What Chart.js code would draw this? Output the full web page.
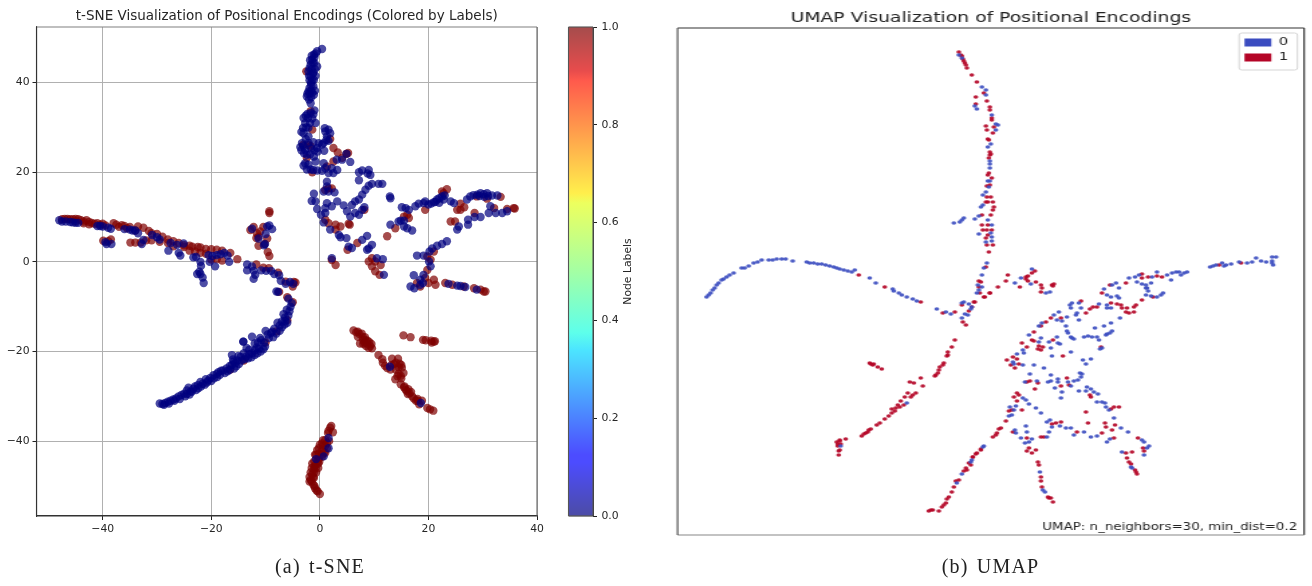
<!DOCTYPE html>
<html>
<head>
<meta charset="utf-8">
<title>t-SNE and UMAP</title>
<script src="https://cdn.jsdelivr.net/npm/chart.js@4"></script>
<style>
html, body { margin: 0; padding: 0; background: #fff; width: 1312px; height: 586px; overflow: hidden; }
canvas { position: absolute; display: block; }
.caption { position: absolute; top: 555px; font: 20px "Liberation Serif", serif; letter-spacing: 1.2px; word-spacing: 2px; color: #222; white-space: nowrap; transform: translateX(-50%); }
</style>
</head>
<body>
<canvas id="tsneChart" width="574" height="560" style="left:0;top:0"></canvas>
<canvas id="colorbar" width="100" height="560" style="left:560px;top:0"></canvas>
<canvas id="umapChart" width="487" height="560" style="left:660px;top:0;transform-origin:0 0;transform:scaleX(1.34)"></canvas>
<div class="caption" style="left:320px">(a) t-SNE</div>
<div class="caption" style="left:990.5px">(b) UMAP</div>

<script>
// t-SNE, label 0 / label 1
const tsneBlue = [
[-48,9.3],[-47.5,9],[-46.8,9],[-46,8.9],[-45.5,8.8],[-45,8.7],[-44.5,8.7],[-41,8],[-40.5,8],[-40,7.9],[-39,7.6],[-38.5,7.4],[-36,7.3],[-35,7.2],[-34.5,7],[-34,7],[-33.5,6.4],[-30.9,6],[-30,5.5],[-29.5,5],[-27.9,2.5],[-27.5,4.2],[-26.3,3.8],[-26,2],[-25.7,1.4],[-25.1,4.1],[-32.5,4.9],[-32.8,4],[-39.5,4.4],[-39.3,4],[-38.4,4],
[-23.3,1],[-22.8,1.1],[-22,0],[-21.9,-0.9],[-22.6,-2.7],[-22,-2.7],[-21.6,-3.5],[-21.4,-4.7],[-22.2,-2.2],[-20.5,1.5],[-20.3,0],[-19.3,-1],[-19.8,1.3],[-19,1.5],[-18.3,1.7],[-17.6,2],[-17,1.4],[-16.7,0],
[-13.4,-0.6],[-13.4,-1.9],[-12.5,-1],[-12.2,-2],[-11.9,-2.9],[-12.2,-3.8],[-10.8,-1.9],[-9.9,-2],[-9,-2],[-8.4,-2.7],[-7.5,-3],[-7.2,-4.2],[-6.3,-4.9],[-5.5,-4.5],[-4.9,-4.9],
[-12.5,7.4],[-11.3,5.2],[-10,6.2],[-9.3,8.1],[-9.7,7.9],[-8.8,7.3],[-10.1,4],[-10.3,3.7],
[-29.5,-31.6],[-29,-31.7],[-28.5,-31.5],[-28,-31.2],[-27.5,-31],[-27,-30.7],[-26.5,-30.5],[-26,-30],[-25.5,-29.7],[-25,-29.4],[-24.5,-29.5],[-24.5,-28.7],[-24.2,-28.1],[-23.8,-28.9],[-23.3,-28.3],[-23,-27.8],[-22.5,-27.5],[-22,-26.8],[-21.6,-27.2],[-21,-26.2],[-20.6,-26.5],[-20.2,-25.9],[-19.6,-25.3],[-19,-25],[-18.7,-24.6],[-18.2,-24.3],[-17.8,-24.2],[-17.2,-23.8],[-16.6,-23.2],[-16.2,-23],[-15.9,-22.3],[-16,-21.8],[-15.6,-22.6],[-15.2,-22],[-16.2,-20.8],[-15,-21],[-14.6,-21.2],[-14,-20.4],[-13.6,-21.1],[-13,-20.6],[-12.5,-20.4],[-12,-19.7],[-11.6,-19.1],[-11.2,-19.4],[-12.5,-16.7],[-14.1,-17.8],[-14.1,-17.8],[-12,-18.2],[-11.4,-18],[-10.8,-17.5],[-10.3,-18],[-10,-15.4],[-9.6,-16.2],[-9,-15.9],[-8.4,-14.9],[-8.8,-15.6],[-7.8,-13.6],[-7.4,-14.2],[-7,-13.3],[-6.4,-13.2],[-6.7,-11.7],[-6.4,-12.4],[-6.1,-10.7],[-5.2,-9.2],[-5.8,-8.2],[-7.7,-6.7],[-8,-6.6],
[-28.7,-31.9],[-27.8,-31.6],[-26.8,-31],[-25.8,-30.6],[-24.8,-30],[-24,-29.6],[-23.6,-29],[-22.8,-28.6],[-22.4,-28.2],[-21.9,-27.8],[-21.2,-27.4],[-20.8,-26.9],[-20,-26.6],[-19.5,-26],[-18.9,-25.7],[-18.4,-25.2],[-17.5,-24.8],[-17,-24.4],[-16.6,-24.1],[-15.8,-23.8],[-15.4,-23.3],[-14.9,-22.8],[-14.4,-22],[-13.8,-21.7],[-13.2,-21.5],[-12.6,-21.3],[-12,-20.8],[-11.5,-20.4],[-10.9,-20],[-10.4,-19.5],[-10.1,-18.9],[-13,-19.6],[-13.5,-19.2],[-11,-17],[-9.4,-17],[-8.6,-16.8],[-8,-16],[-7.4,-15.4],[-7,-14.6],[-6.5,-14],[-6,-13.6],[-5.4,-10],[-5.6,-11],[-5.8,-12],
[1.6,-39.3],[1.6,-41.6],[0.7,-43.4],[-0.7,-44],[12.9,-23.4],[18.6,-31.5],
[0.4,47.5],[-0.5,47],[-1.1,46.2],[-0.8,46.5],[-1.4,45.1],[-1,45.6],[-1.7,44],[-1,44.4],[-2.1,42.5],[-1.5,43],[-0.9,43],[-1.7,41.4],[-0.8,41.5],[-1.2,42.2],[-0.5,43.6],[-1.1,40.6],[-1.6,40],[-1.9,38.8],[-1.2,39.2],[-1.4,37.7],[-2.4,36.9],[-1.1,37.3],[-1.9,37.6],[-2,36.2],[-1.7,35.4],[-1.7,33.2],[-1.2,32.9],[-3,32.1],[-2.2,32.1],[-1.4,32],[-2.7,31],[-0.8,31],[-3.1,29.9],[-2.1,29.9],[-3,28.7],[-2.1,28],[-3,25.8],[-3.3,26.5],[-2.1,26.5],[-1.2,26.7],[-0.2,26.5],[0.4,26.2],[-0.5,25.4],[-2.7,25],[-1.6,25.3],[-2.4,23.9],[-2.7,22],[-2.1,21.7],[-2.4,20.6],[-1.1,23.5],[-0.8,22.4],[-0.5,20.4],
[-1.5,46],[-1.8,45],[-1.3,44.5],[-1.9,43.2],[-1.3,42],[-2,41.5],[-1.9,40.5],[-1.4,40.5],[-1.6,39.4],[-2.1,38],[-1.6,38.2],[-2.3,37.5],[-1.6,36.7],[-0.9,38.2],[-2.3,33],[-2.6,32.6],[-1,33.8],[-1.8,31],[-2.5,30],[-3.4,29],[-2.6,27.4],[-3.6,25.6],[-3.4,24.9],[-2.9,24.2],[-1,24.9],[-0.4,24.6],[-1.8,24],[-3,21.5],[-1.7,20.6],[-1.2,20.5],[0.8,24.8],[1.6,27],[0.9,29.8],
[1.6,29.5],[1,29.1],[1.9,28.7],[1.3,28],[1.2,27.2],[0.7,26.5],
[4.9,24.1],[3.1,22.8],[4.1,22.8],[5.6,22.3],[0.7,22],[1,20.9],[2.2,20.9],[3.2,20.5],[1.6,19.8],[2.5,19.8],[0.4,20.3],
[7.2,20],[7.8,20.4],[9,20.5],[9.3,19.4],[8.8,19.7],[7.2,18.2],
[11.5,17.4],[10.8,17.4],[9.6,17.4],[9,17],[8.4,16.1],[7.8,15],[7.2,13.9],[6.5,13.5],[8.2,12.2],[6.5,10.9],[5.9,12.7],[4.4,12.6],[5,11.3],[5.6,10.1],[7.2,10.5],[7.8,11.6],
[1.3,17.9],[1.3,16.8],[1.6,15.7],[-1.1,15.2],[-1.5,13.6],[-0.8,13.5],[0.7,15.7],[2.7,15.5],[1.3,13.1],[3.2,13.5],[2.2,12.4],[1,12],[-0.5,11.8],[0.2,10.5],[1,10.9],[0.7,8.8],[1.9,7.2],[3.5,6],[3.8,5.5],[4.9,5.3],[5.3,3.4],[5.9,3.1],[7.8,4.9],[8.7,5.8],[9.6,3.8],[9,3],[8.7,2.7],
[2.2,0.8],[10.5,0.8],[11.6,0.6],[11.8,-2.9],[12.9,14.6],[13,14.2],
[13,8.3],[14.5,9],[14.9,9.2],[15.5,9.2],[15.1,12.2],[15.8,12],[16.4,11.6],[17.6,12.4],[18.2,13],[19.1,13.1],[19.4,13.5],[20,12.8],[21,13.3],[21.6,13.9],[22.5,14.6],[22.8,13.9],[22,13.2],[24.1,13.5],[24.7,13.1],[27.1,13.9],[27.7,14.6],[29,15],[29.6,15.3],[30.2,15.1],[30.8,15.3],[31.7,14.8],[32.7,14.8],[25.6,7.9],[25.3,7.2],[27.3,9.4],[27.3,8.3],[28.5,10],[29.6,10],[31.4,12.4],[31.1,10.9],[32.4,10.9],[33.6,10.9],[34.5,11.3],[16.1,7.5],[17,7],[15.5,7.9],
[20.5,13],[21.3,13.4],[22,14.2],[23,14.8],[28.3,14.9],[31,14.7],[29.4,14.7],[30.3,14.5],
[23.4,4.6],[22.5,4],[21.6,3.6],[20.7,3],[20.2,2.3],[17.9,1.4],[19.1,1.4],[20.1,0.1],[20.4,-1],[17.3,-3],[19.1,-2.9],[18.5,-4],[16.7,-5.5],[17.4,-5.9],[18.5,-5.1],[19,-4.7],
[23.7,-4.9],[25.3,-5.3],[26.8,-5.6],[28.9,-6.2],[25.9,-5.4]
];
const tsneRed = [
[-47.5,9.5],[-47,9.6],[-46.5,9.6],[-46,9.5],[-45.5,9.5],[-45,9.6],[-44.5,9.5],[-44,9.3],[-43.5,9],[-43,9.3],[-42.5,8.9],[-42,8.7],[-41.5,8.5],[-41,8.6],[-40.5,8.3],[-40,8.5],[-39.5,8.1],[-38,8.6],[-37.5,8.3],[-36.5,8.2],[-36,8],[-35.5,7.5],[-35,7.8],[-34,7],[-33.5,7.9],[-32.5,7.6],[-31.5,6.9],[-31,6.4],[-30,6.2],[-29,5.6],[-28,5],[-27,4.6],[-26,4.2],[-25,3.7],[-24,3.6],[-23.5,3.4],[-22.5,3.3],[-22,3.2],[-21,2.9],[-20,2.8],[-19,2.7],[-18,2.5],[-16.5,2],[-15.2,0.6],
[-45,9.1],[-43.5,8.6],[-42.5,8.4],[-37,7.8],
[-39.9,4.7],[-39,4.6],[-38.5,5],[-34.9,4.3],[-34,4.3],[-33,4.3],[-32,4.8],[-31,4.8],[-29.5,4.5],[-28,4.2],[-27,3.5],[-25,3.3],[-24,2.5],[-23,2.3],[-22,2],[-21,1.8],[-20,0.5],[-19,0.6],[-18,0.3],
[-11.7,-0.6],[-10.4,-1.3],[-9.4,-1.4],[-7.7,-2.4],[-6.3,-4.4],[-4.8,-4.5],[-4.5,-4.6],
[-12.8,7.1],[-12.2,7.8],[-11.6,6.4],[-11.3,5.6],[-11.3,3.6],[-10.4,7.8],[-10.2,4],[-9.7,5.2],[-9.6,2.2],[-9.3,1.3],[-11,6.8],[-9.3,11.3],[-9.3,10.9],[-11.7,5.3],
[-16.5,-24],[-14,-22],[-10,-18],[-8,-15.5],[-6,-13],[-5,-9],[-6,-7.9],[-7.5,-6.7],[-5,-5.5],
[0,-51.8],[-0.4,-51.2],[-0.9,-50.5],[-1.2,-49.7],[-1.5,-49],[-1.7,-48.6],[-1.1,-48.2],[-1.1,-47],[-1.4,-47.4],[-0.8,-46],[-1,-45.7],[-0.8,-45.3],[-0.4,-44.4],[-0.2,-43.8],[-0.7,-43],[-0.2,-42.8],[-0.2,-41.6],[0.4,-42.2],[0.8,-42.5],[0.4,-40.5],[1,-39.8],[1.3,-41.6],[1,-41],[0.4,-43.5],[-0.3,-45],[-1.1,-46.3],[1.9,-37],[2.4,-38],[1.6,-37.7],[2.1,-36.6],[1.5,-38.2],
[0.6,-41],[1.3,-40.4],[1.7,-40],[0,-40.8],[0.6,-39.8],[-0.5,-42],[-0.9,-43],[-1,-44.5],[-1.4,-45],[-1.5,-46],[-1.7,-47],[-1.9,-48],[-1.9,-49],[-1.2,-48],[-0.7,-47],[-0.3,-46],[-0.1,-44.6],[0.4,-43],[1,-42.6],[-1,-50],[-0.6,-51],
[6.2,-15.3],[7,-15.6],[7.7,-16],[7,-16.7],[7.9,-16.8],[7.4,-18.2],[8,-17.5],[8.8,-17.6],[9.5,-18.3],[8.5,-18.8],[9,-19.2],[9.6,-19.3],[8.7,-18.2],[10.8,-20.8],[11.5,-21.7],[11.6,-22.5],[12,-23.2],[12.4,-23.7],[13.3,-21.6],[13.2,-23],[14.4,-21.6],[14.7,-22.7],[14,-24],[14.5,-25],[15.4,-24.8],[15,-26],[13.9,-26.2],[14.9,-27.3],[15.5,-28],[16,-28.8],[16.5,-29.3],[17,-30],[17.7,-31],[18.3,-31.8],[18,-31],[19.8,-32.6],[20.3,-32.9],[20.9,-33.2],[14.3,-25.5],[15.6,-27.8],[13.7,-22.8],[15.1,-23.6],[16.2,-29.5],
[6.7,-15.7],[7.3,-16.1],[8.3,-16.8],[8.4,-17.5],[9.1,-17.9],[8,-18.3],[8.2,-18],[9.3,-18.8],[14,-22.5],[14.5,-23.5],[15,-23],[13,-24],[14.9,-25.4],[15.8,-28.5],[16.3,-28.4],[16.8,-29],[17.3,-30.5],[18,-30.6],[18.8,-31],
[15.4,-16.4],[16.7,-16.8],[19,-17.4],[19.5,-17.5],[20.5,-17.6],[21,-17.8],[20.6,-18],[21.2,-17.7],
[-2.5,42.5],[-1.7,33.6],[-1.4,29.5],[-3.1,26.1],[-2.1,26.1],[-1.7,25.8],[-2.4,23.2],[-1.4,20],[1.9,27.4],[2.5,25.4],[3.3,24.4],[4.1,23.2],[4.9,24.1],[5.2,24.3],[2.5,22.4],[1.3,21.3],
[8.2,11.6],[1,16],[1.6,16.4],[2.2,16.4],[1,9.4],[1.6,8.6],[2.9,8.3],[3.8,7.9],[5.3,8.5],[5.5,8.3],[2.9,7.2],[6.9,4.2],[5.1,2.7],[2.2,0.4],[2.9,-0.7],[12.4,5.7],
[9.6,0.8],[9,0.1],[10.2,0.1],[9.6,-1],[11.2,-0.7],[10.2,-2.1],[11,-2.9],
[13.9,7.5],[15.5,10.1],[16.1,10.5],[16.4,9.8],[19.4,11.6],[22.5,15.7],[23.4,16.2],[22.8,15.3],[24.1,9],[24.9,9],[25.3,11.6],[25.9,11.6],[25.9,13],[26.6,12.2],[28.5,10.9],[28.9,14.6],[30.8,14.1],[33.3,14.5],[32.1,12],[34.5,11.8],[35.9,11.9],[35.7,12],
[21,2.3],[19.8,1.2],[20.4,0.5],[19.8,-1.8],[19.4,-3.6],[20,-4.7],[21,-4],[21.3,-5.1],[18.5,-5.5],[17.9,-4.7],
[23.1,-4.7],[24.4,-5.1],[26.5,-5.5],[28.4,-5.9],[29.6,-6.2],[30.2,-6.6],[30.5,-6.6]
];

// UMAP has no ticks, units here are arbitrary
const umapBlue = [
[28.1,48],[28.4,47.7],[30.4,44.8],[30.8,44.5],[30.8,44],[29.7,42.9],[29.9,42.6],[31.4,42],[31.8,41.1],[32,41],[31.8,40.5],[31.3,39.1],[31,38.8],[31.2,37.4],[31.2,37.1],[31.2,36.7],[31,35.4],[31.2,35.4],[31.1,34.8],[30.8,34.3],[30.5,34],[30.5,33],[30.3,32.8],[30.1,31.9],[29.7,31.6],[28.6,31.7],[28.4,31.5],[28.2,31.3],[27.6,31.2],[31,31.5],[31.4,31],[31.3,30.2],[30.1,30.1],[31.4,29.8],[31.4,29.4],[30.8,29.3],
[30.9,27.2],[30.6,26.7],[30.4,26],[30,25],[30.4,24.8],[29.9,24.2],[30.1,24.5],[29.3,22.6],[29.4,22.8],[29.1,23.1],[28.6,23.3],[28.4,23.2],[28.7,22.1],[29,22],[28.4,21.7],[27.3,22.1],[26.8,22.3],[25.9,22.6],[23.9,23.4],[23.5,23.6],[22.9,23.8],[22.4,24],[22.1,24.2],[21.6,24.4],
[2.9,23.8],[3.1,24],[3.3,24.2],[3.5,24.5],[3.7,24.7],[3.9,25],[4.1,25.2],[4.4,25.5],[4.6,25.6],[4.9,25.8],[5.2,26],[5.6,26.2],[6.4,26.7],[6.7,26.7],[7.1,26.9],[7.6,27.2],[8,27.3],[8.4,27.5],[9.1,27.5],[9.5,27.5],[9.9,27.6],[10.4,27.6],[10.8,27.6],[11.5,27.4],[12.9,27.3],[13.2,27.2],[13.6,27.2],[14,27.1],[14.4,27.1],[14.8,27],[15.2,26.9],[15.6,26.8],[15.9,26.7],[16.2,26.6],[16.6,26.5],[17,26.4],[17.4,26.3],[17.7,26.5],[19.2,25.7],[19.8,25.2],[21.5,24.6],
[53.2,26.8],[53.5,26.9],[53.8,27],[54.4,27.2],[54.6,26.9],[54.8,27],[55.3,27.1],[56.1,27.3],[56.9,27.2],[57.4,27.3],[57.8,27.7],[58.3,27.4],[58.8,27.3],[59.4,27.8],[59.8,27.8],[59.4,27.4],[59.5,27],[59.4,27.2],
[50.9,26.3],[50.6,26.2],[50.1,26.3],[49.8,26.3],[49.4,26.2],[50.3,26],[49.3,25.5],[48.9,26],[47.9,26.3],[47.4,25.8],[47.3,25.2],[46.1,26],[45.7,25.8],[45.1,25.7],[43.8,25.2],[43.4,25],[44.1,24.7],[45.9,25.3],[46.4,25.1],[46.8,25],[46.9,24.7],[42.6,24.6],
[33.7,25.2],[34.3,25.7],[35.4,26.6],[35.3,25.1],[36.8,24.2],[37.2,24.3],
[42.9,24],[43.3,23.8],[43.9,23.9],[44.1,23.7],[42.9,23],[42.9,22.7],[43.3,22.7],[46.8,24],[47.3,23.9],[47.9,23.8],[48.3,24],[48.5,24.2],[46.8,24.7],[47,24.4],
[42.1,23.1],[40.1,23.2],[39.4,23.2],[39.2,23],[40.3,22.7],[39.9,22.2],[39.8,22],[40.1,21.5],[39.3,22.7],[38.9,21.8],[38.4,21.4],[38.1,22.3],[37.6,22],[37.9,21.5],[36.4,21.2],[36.1,20.9],[44.2,21.7],
[43.3,21.2],[42.6,20.9],[41.7,20.7],[43.4,20.4],[43.2,20.2],[42.9,20.1],[42.8,20],[38.8,20.9],[38.9,20.4],[39,20.2],[39.3,19.8],[39.6,19.6],[39.4,19.7],[40.6,19.8],[41,19.9],[41.4,19.8],[41.9,19.8],[42.1,19.5],[42.2,18.6],[42.4,18.7],
[35.1,20],[36.3,19.7],[36.1,19.3],[37.1,19.3],[37.9,19.8],[38,19.2],[38.2,19.1],[34.5,18.5],[34.6,18.2],[37.3,18.7],[39.3,18.3],[37.4,17.9],[33.9,18.1],[33.5,17.3],[33.6,17.1],[34.5,17],[35.6,17],[36.6,16.7],[40.5,17.5],[41.3,17.6],[40.8,17.1],
[35.2,16.1],[34.7,15.3],[35.9,15.4],[37.3,16],[37.3,15.4],[37,15.3],[38,15.6],[38,15.3],[39,15.3],[37.7,14.7],[38.4,14.3],[38.3,13.7],[39.6,15.4],[40,15.5],[40.2,16.2],[40.4,16.1],[40.3,15.8],[39.3,14.9],[40.9,14.8],[41.3,14.6],[40.1,14.4],[40.8,14.4],[41.6,14.3],[42,14.1],[41.9,13.3],[42.4,13.3],[42.7,13.2],[42.8,12.8],[43.1,12.5],[43.6,11.7],[44.3,10.7],[45,10.3],[46.4,9.5],[46.6,9.3],[47.1,8.9],[46.9,8.7],[46.6,8],[43.2,9.6],[42.9,9.3],[41.9,9.9],[41.3,9.8],[40.6,10.3],[39.6,10],[39.3,10.7],[38.8,10.7],[38.2,10.9],[37.2,11.5],[36.9,11.3],[37.4,10.8],[37.1,10.3],[36.9,9.8],[34.8,10.9],[34.9,10.3],[33.7,10.5],[33.8,10.2],[35.4,9.6],[35.1,9.3],[34.3,9.7],[34.7,9.2],[36.2,6.3],[36.5,4.5],[36.7,4.3],
[44.4,8.3],[45.3,6.8],[45.4,6.7],
[34.5,13.7],[34.8,13.5],[35.1,13.1],[33.2,12.8],[33.8,12.9],[33.6,12.5],[35.8,12.7],[36.3,12.2],[33.4,12],[33.1,11.9],[30.5,8.8],[29.3,7.3],
[30.6,8.9],[29.4,7.5],[28.4,6.1],[27.9,5.2],[22.9,13.2],[16.3,8.9]
];
const umapRed = [
[28.1,48.3],[28.3,48],[28.4,47.9],[28.5,47.6],[28.6,47.4],[28.7,47.2],[28.8,47],[28.9,46.7],[29.4,46],[29.9,45.3],[30.6,44.2],[30.9,43.4],[31.2,42.8],[31.2,42.5],[29.8,43.8],[29.8,43.1],[31.4,41.7],[31.4,41.5],[31.6,40.8],[30.8,40.9],[30.9,40.5],[31.5,40.2],[31,39.6],[31.1,39.5],
[31.2,38.3],[31.2,38],[31.1,37.7],[31.3,38.1],[31.1,36.2],[31,36],[31.4,35.7],[31.2,35],[30.9,34.9],[30.9,33.8],[31.3,33.8],[30.8,33.3],[31,33.3],[31.5,33.3],[31.6,32.8],[31.5,32.5],[31.3,32],[30.4,32],
[30.4,31],[31,31],[30.5,30.5],[30.9,30.5],[31.4,30.5],[31,30],[30.8,29.7],[30.9,29],[31.5,29],[31.1,28.3],[30.8,26.8],[30.3,25.3],[30.1,25.4],[30.1,24.8],[29.7,23.3],[29.4,22.8],
[30.2,24.2],[31.2,24.2],[30.6,23.8],[29.6,23.3],[28.4,23],[29.1,22.4],[28.5,21.3],[28.8,21],[27.7,22.3],[26.5,22.2],[24.3,23.3],
[18.1,26],[20.7,24.8],[54.1,27],[56.3,27.2],
[48.4,25.8],[47.9,25.9],[47,25.8],[46.4,26.1],[46.4,25.7],[44.8,25.2],[43.2,25],
[33,26],[32.8,25.4],[32,24.8],[31.2,24.2],[30.7,23.8],[34.2,24.8],[34.8,25.8],[35,25.9],[34.8,25.6],[35,25.4],[35.7,26.4],[35.4,26.2],[35.8,25.3],[36.3,25],[36.4,24.7],[36.3,24.3],[37.4,25],[37.6,25.1],[37.5,24.9],
[42.4,24.2],[43.3,23.2],[43.9,23.1],[44.3,23],[44.4,22.7],[44.9,22.7],[44.8,22.3],[45.1,22.2],[45.6,22.3],[45.6,22.8],[45.8,23],[46.4,23.5],[47.5,23.8],
[41.9,22.8],[41.5,22.8],[41.2,22.6],[40.8,22.2],[40.3,23.4],[38.3,21.7],[37.3,21.7],[36.8,21.3],[36.3,20.9],
[35.6,20.3],[35.4,19.5],[35.6,19.4],[37.5,19.5],[34.4,19.2],[34.9,18.8],[36.1,18.9],[36.5,18.8],[36,18.6],[36.3,18.5],[38.5,17.9],[33.5,17.8],[33.9,17.6],[32.9,17.5],[34.1,17.1],[33.3,17],[33.7,16.7],[42.3,18.8],
[35.2,15.4],[34.9,15.3],[36,15.2],[35.7,14.6],[38.9,15.7],[39.1,15],[38.3,14.9],[41.2,14],[41.3,13.8],[43.6,12.8],[44.1,12.8],[43.3,12.6],[40.8,12.3],[42.7,11.2],[42.8,10.8],[43.7,11],[43.4,10.5],[46,9.7],[46.5,8.7],[46.6,8.4],[43.6,9.7],[42.4,10.2],[39.9,10.3],[41,11.2],[38.3,11.3],[37.8,11.2],[37.4,11.1],[36.3,9.8],[36.6,9.8],[33.5,10.3],[34.9,9.7],[35.1,8.7],[34.9,8.4],[35.4,8.2],[35.8,8.5],[36,7.3],[36.1,7],[36.3,5.8],[36.3,5.4],[36.4,4.8],[37,3.8],[37.1,3.7],[37.3,3.7],[37.5,3.3],
[44.8,8.2],[45.4,8.3],[44.9,7.7],[45.1,7.3],[45.3,7.1],[45.8,6.3],[45.9,6.1],[45.7,6.5],
[33.9,14.2],[34.1,14],[33.6,13.8],[33.9,13.4],[33.4,12.5],[33.1,12.4],[34.4,12.5],[32.8,11.4],[32.3,10.7],[32.1,10.6],[31.9,10.2],[31.8,10],[31.5,9.8],[30.3,8.5],[29.8,8.1],[29.5,7.8],
[30.3,8.6],[29.9,8.2],[29.5,7.8],[29.1,7.2],[29.3,7],[28.8,6.7],[28.9,6.5],[28.6,6.4],[28.1,5.5],[27.8,5.4],[27.6,4.8],[27.4,4.3],[27.1,3.8],[26.9,3.6],[26.8,3.2],[26.6,3],[26.4,2.8],[26.1,2.4],[25.5,2.5],[25.3,2.5],[25.1,2.4],
[27.7,19.5],[27.4,18.8],[27,18.3],[26.9,17.9],[27,18],[26.6,17.2],[26.5,17],[26.2,16.8],[26.1,16.5],[25.8,16],[25.7,15.9],[26,16.2],
[24.3,15.7],[24.5,14.9],[23.2,15.3],[23.6,15.2],[23.8,14.2],[23.3,13.8],[23.5,14],[23,14.2],[22.7,13.8],[22.3,13.4],[22.6,13],[22,13],[22.2,12.8],[21.8,12.7],[21.4,12.6],[21.7,12.4],[21.4,12.2],[21.1,11.9],[20.7,11.6],[20.2,11.2],[19.9,11],[19.3,10.6],[19.1,10.5],[19,10.3],[18.8,10.2],[18.6,10.1],[18.4,9.9],
[16.8,9.6],[16.2,9.5],[15.9,9.3],[16.2,9.4],[16,9.1],[16.3,9.1],[16,8.9],[16.2,8.5],[16.1,8.4],[16.1,8],
[19.2,17.2],[19.3,17.1],[19.5,17],[19.6,17.1],[20,16.8],[20.4,16.6]
];

const tsneXTicks = [-40, -20, 0, 20, 40];
const tsneYTicks = [-40, -20, 0, 20, 40];
const colorbarTicks = [0, 0.2, 0.4, 0.6, 0.8, 1];
const umapClasses = ['0', '1'];
const umapColors = ['#3b4cc0', '#b40426'];

const tickFont = { family: 'DejaVu Sans', size: 10.8 };
const textColor = '#262626';
// matplotlib jet
const jetStops = [[0,'0,0,127'],[0.11,'0,0,255'],[0.125,'0,0,255'],[0.34,'0,218,255'],[0.375,'25,255,226'],[0.5,'125,255,125'],[0.64,'229,255,26'],[0.66,'255,232,0'],[0.89,'255,20,0'],[0.91,'222,0,0'],[1,'127,0,0']];

function toPoints(pairs) {
    return pairs.map(p => ({ x: p[0], y: p[1] }));
}

function fixedTicks(values) {
    return scale => { scale.ticks = values.map(v => ({ value: v })); };
}

function minusLabel(value) {
    return String(value).replace('-', '\u2212');
}

// four sided frame, colours are top, right, bottom, left
function framePlugin(colors) {
    return {
        id: 'frame',
        afterDraw(chart) {
            const a = chart.chartArea;
            const ctx = chart.ctx;
            const sides = [[a.left, a.top, a.right, a.top], [a.right, a.top, a.right, a.bottom], [a.left, a.bottom, a.right, a.bottom], [a.left, a.top, a.left, a.bottom]];
            ctx.save();
            ctx.lineWidth = 1.1;
            sides.forEach((s, i) => {
                ctx.strokeStyle = colors[i];
                ctx.beginPath();
                ctx.moveTo(s[0], s[1]);
                ctx.lineTo(s[2], s[3]);
                ctx.stroke();
            });
            ctx.restore();
        }
    };
}

// t-SNE
new Chart(document.getElementById('tsneChart'), {
    type: 'scatter',
    data: {
        datasets: [
            { label: '0', data: toPoints(tsneBlue), pointRadius: 4.2, pointBorderWidth: 0, pointBackgroundColor: 'rgba(0,0,127,0.7)' },
            { label: '1', data: toPoints(tsneRed), pointRadius: 4.2, pointBorderWidth: 0, pointBackgroundColor: 'rgba(127,0,0,0.7)' }
        ]
    },
    options: {
        responsive: false,
        animation: false,
        layout: { padding: { top: 8.5, right: 37, bottom: 14, left: 36.5 } },
        plugins: {
            legend: { display: false },
            tooltip: { enabled: false },
            title: {
                display: true,
                text: 't-SNE Visualization of Positional Encodings (Colored by Labels)',
                color: textColor,
                font: { family: 'DejaVu Sans', size: 13.5, weight: 'normal' },
                padding: { top: 0, bottom: 2.3 }
            }
        },
        scales: {
            x: {
                type: 'linear',
                min: -52.2,
                max: 40,
                afterBuildTicks: fixedTicks(tsneXTicks),
                afterFit: s => { s.height = 30; },
                grid: { color: '#b0b0b0', lineWidth: 1, tickColor: '#222', tickLength: 4 },
                border: { color: '#333', width: 1.1 },
                ticks: { autoSkip: false, maxRotation: 0, color: textColor, font: tickFont, padding: 3, callback: minusLabel }
            },
            y: {
                type: 'linear',
                min: -56.7,
                max: 52.4,
                afterBuildTicks: fixedTicks(tsneYTicks),
                afterFit: s => { s.width = 0; },
                grid: { color: '#b0b0b0', lineWidth: 1, tickColor: '#222', tickLength: 4 },
                border: { color: '#333', width: 1.1 },
                ticks: { autoSkip: false, color: textColor, font: tickFont, padding: 3, callback: minusLabel }
            }
        }
    },
    plugins: [framePlugin(['#808080', '#666', '#333', '#333']), {
        // labels are clipped to the axis box, so open it up to the canvas edge
        id: 'yAxisRoom',
        afterLayout(chart) {
            chart.scales.y.left = 0;
        }
    }]
});

// colorbar, one floating bar from 0 to 1
new Chart(document.getElementById('colorbar'), {
    type: 'bar',
    data: {
        labels: ['Node Labels'],
        datasets: [{
            data: [[0, 1]],
            barPercentage: 1,
            categoryPercentage: 1,
            backgroundColor(context) {
                const area = context.chart.chartArea;
                if (!area) return 'transparent';
                const g = context.chart.ctx.createLinearGradient(0, area.bottom, 0, area.top);
                jetStops.forEach(s => g.addColorStop(s[0], 'rgba(' + s[1] + ',0.7)'));
                return g;
            }
        }]
    },
    options: {
        responsive: false,
        animation: false,
        layout: { padding: { top: 27, right: 0, bottom: 44, left: 8.5 } },
        plugins: { legend: { display: false }, tooltip: { enabled: false } },
        scales: {
            x: { display: false },
            y: {
                position: 'right',
                min: 0,
                max: 1,
                afterBuildTicks: fixedTicks(colorbarTicks),
                afterFit: s => { s.width = 67; },
                grid: { drawOnChartArea: false, tickColor: '#222', tickLength: 4 },
                border: { color: '#333', width: 1 },
                ticks: { autoSkip: false, color: textColor, font: tickFont, padding: 4.5, callback: v => Number(v).toFixed(1) }
            }
        }
    },
    plugins: [framePlugin(['#555', '#555', '#333', '#555']), {
        id: 'barTitle',
        afterDraw(chart) {
            const ctx = chart.ctx;
            const a = chart.chartArea;
            ctx.save();
            ctx.translate(a.right + 35, (a.top + a.bottom) / 2);
            ctx.rotate(-Math.PI / 2);
            ctx.textAlign = 'center';
            ctx.textBaseline = 'middle';
            ctx.fillStyle = textColor;
            ctx.font = '10.8px "DejaVu Sans"';
            ctx.fillText(chart.data.labels[0], 0, 0);
            ctx.restore();
        }
    }]
});

// UMAP
const umapAnnotation = 'UMAP: n_neighbors=30, min_dist=0.2';
new Chart(document.getElementById('umapChart'), {
    type: 'scatter',
    data: {
        datasets: [
            { label: umapClasses[0], data: toPoints(umapBlue), borderWidth: 0, pointRadius: 1.8, pointBorderWidth: 0, pointBackgroundColor: 'rgba(59,76,192,0.9)' },
            { label: umapClasses[1], data: toPoints(umapRed), borderWidth: 0, pointRadius: 1.8, pointBorderWidth: 0, pointBackgroundColor: 'rgba(180,4,38,0.9)' }
        ]
    },
    options: {
        responsive: false,
        animation: false,
        layout: { padding: { top: 10, right: 6.3, bottom: 25, left: 13.1 } },
        plugins: {
            tooltip: { enabled: false },
            title: {
                display: true,
                text: 'UMAP Visualization of Positional Encodings',
                color: '#222',
                font: { family: 'DejaVu Sans', size: 14, weight: 'normal' },
                padding: { top: 0, bottom: 1.2 }
            },
            legend: {
                position: 'chartArea',
                align: 'start',
                labels: {
                    boxWidth: 20,
                    boxHeight: 8,
                    padding: 4,
                    color: '#222',
                    font: { family: 'DejaVu Sans', size: 11 },
                    generateLabels: chart => Chart.defaults.plugins.legend.labels.generateLabels(chart).map((item, i) => ({ ...item, fillStyle: umapColors[i], strokeStyle: umapColors[i] }))
                }
            }
        },
        scales: {
            x: { type: 'linear', min: 0, max: 62.6, display: false },
            y: { type: 'linear', min: 0, max: 50.7, display: false }
        }
    },
    plugins: [framePlugin(['#333', '#222', '#888', '#444']), {
        id: 'legendBox',
        afterLayout(chart) {
            const lg = chart.legend;
            lg.left = chart.chartArea.right - lg.width - 2;
            lg.top = chart.chartArea.top + 5;
        },
        beforeDraw(chart) {
            const lg = chart.legend;
            const ctx = chart.ctx;
            ctx.save();
            ctx.strokeStyle = '#d5d5d5';
            ctx.lineWidth = 1;
            ctx.beginPath();
            ctx.roundRect(lg.left, lg.top, lg.width - 3, 37, 2);
            ctx.stroke();
            ctx.restore();
        },
        afterDraw(chart) {
            const a = chart.chartArea;
            const ctx = chart.ctx;
            ctx.save();
            ctx.textAlign = 'right';
            ctx.textBaseline = 'alphabetic';
            ctx.fillStyle = '#222';
            ctx.font = '10px "DejaVu Sans"';
            ctx.fillText(umapAnnotation, a.right - 5.2, a.bottom - 5);
            ctx.restore();
        }
    }]
});
</script>
</body>
</html>
